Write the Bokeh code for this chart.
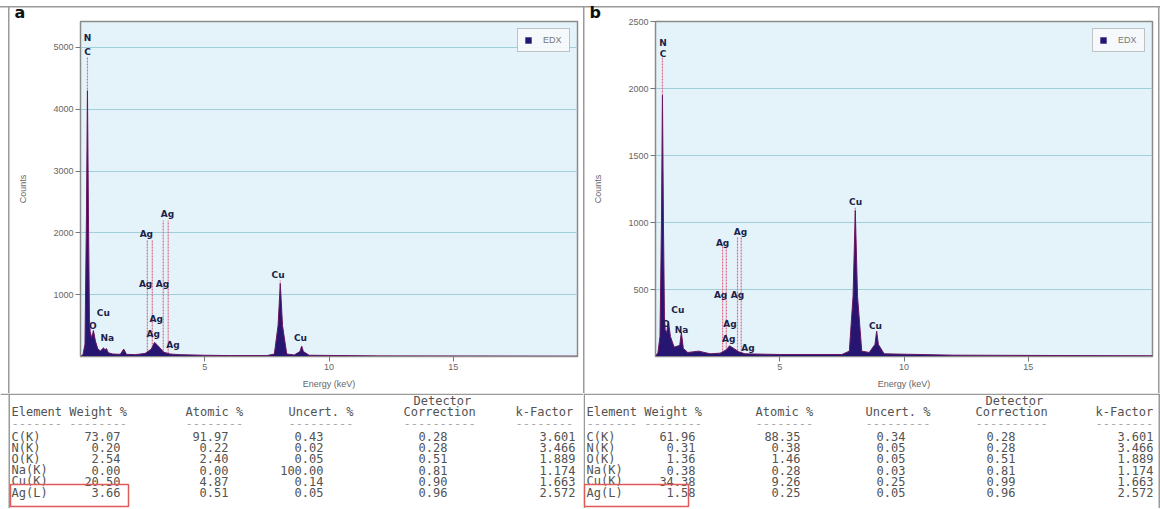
from bokeh.plotting import figure
from bokeh.layouts import row, column
from bokeh.models import Range1d, FixedTicker, Legend, LegendItem, Title
from bokeh.core.properties import value
from bokeh.embed import file_html
from bokeh.resources import INLINE

# ---------------- data ----------------
# spectrum a (energy keV, counts)
energy_a = [0.0, 0.1, 0.18, 0.24, 0.28, 0.32, 0.36, 0.39, 0.45, 0.52, 0.6, 0.7, 0.8, 0.93, 0.98,
            1.04, 1.12, 1.3, 1.6, 1.74, 1.85, 2.2, 2.6, 2.85, 2.98, 3.15, 3.35, 3.6, 4.0, 5.0, 6.0,
            7.5, 7.8, 7.95, 8.04, 8.13, 8.3, 8.6, 8.83, 8.9, 8.97, 9.2, 12.0, 20.0]
counts_a = [0, 30, 200, 2300, 4300, 2300, 600, 400, 300, 420, 250, 120, 90, 140, 100,
            130, 60, 40, 35, 120, 35, 30, 50, 120, 230, 160, 70, 40, 30, 20, 15,
            15, 40, 500, 1180, 500, 40, 25, 80, 170, 80, 20, 10, 5]
# spectrum b
energy_b = [0.0, 0.1, 0.18, 0.24, 0.28, 0.32, 0.36, 0.39, 0.45, 0.52, 0.6, 0.75, 0.93, 0.98, 1.04,
            1.12, 1.3, 1.74, 2.2, 2.6, 2.85, 2.98, 3.15, 3.35, 3.6, 5.0, 7.5, 7.8, 7.95, 8.04,
            8.13, 8.3, 8.6, 8.83, 8.9, 8.97, 9.2, 12.0, 20.0]
counts_b = [0, 30, 150, 1000, 1950, 1000, 300, 200, 180, 260, 150, 70, 80, 90, 180,
            60, 30, 40, 20, 25, 50, 80, 60, 35, 20, 15, 15, 40, 450, 1090,
            450, 40, 30, 90, 190, 90, 20, 10, 5]

# peak labels
lab_a_text = ["N", "C", "O", "Cu", "Na", "Ag", "Ag", "Ag", "Ag", "Ag", "Ag", "Ag", "Cu", "Cu"]
lab_a_x = [0.28, 0.28, 0.50, 0.92, 1.08, 2.65, 3.50, 2.62, 3.30, 3.05, 2.93, 3.72, 7.95, 8.85]
lab_a_y = [5150, 4930, 490, 700, 300, 1980, 2300, 1170, 1170, 600, 370, 180, 1320, 300]
lab_b_text = ["N", "C", "O", "Cu", "Na", "Ag", "Ag", "Ag", "Ag", "Ag", "Ag", "Ag", "Cu", "Cu"]
lab_b_x = [0.30, 0.30, 0.42, 0.90, 1.05, 2.70, 3.42, 2.62, 3.30, 3.00, 2.95, 3.72, 8.05, 8.85]
lab_b_y = [2340, 2260, 245, 350, 200, 850, 930, 460, 460, 240, 130, 65, 1150, 225]

# element marker lines
mark_a_x = [0.28, 2.69, 2.89, 3.33, 3.53, 8.04]
mark_a_top = [4850, 1880, 1880, 2200, 2200, 1230]
mark_b_x = [0.28, 2.70, 2.85, 3.30, 3.45, 8.04]
mark_b_top = [2230, 820, 820, 890, 890, 1110]

yticks_a = [1000, 2000, 3000, 4000, 5000]
yticks_b = [500, 1000, 1500, 2000, 2500]
xticks = [5, 10, 15]

# quantification tables
elements = ["C(K)", "N(K)", "O(K)", "Na(K)", "Cu(K)", "Ag(L)"]
weight_a = [73.07, 0.20, 2.54, 0.00, 20.50, 3.66]
atomic_a = [91.97, 0.22, 2.40, 0.00, 4.87, 0.51]
uncert_a = [0.43, 0.02, 0.05, 100.00, 0.14, 0.05]
detcorr_a = [0.28, 0.28, 0.51, 0.81, 0.90, 0.96]
kfactor_a = [3.601, 3.466, 1.889, 1.174, 1.663, 2.572]
weight_b = [61.96, 0.31, 1.36, 0.38, 34.38, 1.58]
atomic_b = [88.35, 0.38, 1.46, 0.28, 9.26, 0.25]
uncert_b = [0.34, 0.05, 0.05, 0.03, 0.25, 0.05]
detcorr_b = [0.28, 0.28, 0.51, 0.81, 0.99, 0.96]
kfactor_b = [3.601, 3.466, 1.889, 1.174, 1.663, 2.572]

SPEC_H = 393
TAB_H = 115
MONO = value("DejaVu Sans Mono")
GREY = "#9a9a9a"


def make_spec(W, bl, br, ymax, yticks, ex, cy, lt, lx, ly, mx, mtop, letter, edges):
    p = figure(width=W, height=SPEC_H, x_range=Range1d(0, 20), y_range=Range1d(0, ymax),
               min_border_left=bl, min_border_right=br, min_border_top=16, min_border_bottom=37,
               toolbar_location=None, output_backend="svg",
               background_fill_color="#e4f3fa", border_fill_color=None,
               x_axis_label="Energy (keV)", y_axis_label="Counts")
    # panel frame lines (drawn behind the transparent canvas border)
    n = 1 + len(edges)
    grad = f"linear-gradient({GREY},{GREY})"
    p.styles = {
        "background-image": ", ".join([grad] * n),
        "background-repeat": ", ".join(["no-repeat"] * n),
        "background-size": ", ".join(["100% 1.5px"] + ["1.5px 100%"] * len(edges)),
        "background-position": ", ".join(["0px 6px"] + [f"{e}px 6px" for e in edges]),
    }
    p.outline_line_color = "#8a8a8a"
    p.outline_line_width = 1.5
    p.xgrid.visible = False
    p.ygrid.grid_line_color = "#9fd0da"
    p.ygrid.ticker = FixedTicker(ticks=yticks)
    p.xaxis.ticker = FixedTicker(ticks=xticks)
    p.yaxis.ticker = FixedTicker(ticks=yticks)
    for ax in p.axis:
        ax.major_tick_out = 5
        ax.major_tick_in = 0
        ax.minor_tick_out = 0
        ax.minor_tick_in = 0
        ax.axis_line_color = "#8a8a8a"
        ax.major_tick_line_color = "#777777"
        ax.major_label_text_font_size = "9px"
        ax.major_label_text_color = "#666666"
        ax.axis_label_text_font_size = "9px"
        ax.axis_label_text_font_style = "normal"
        ax.axis_label_text_color = "#666666"
        ax.major_label_standoff = 2
    p.yaxis.axis_label_standoff = 22
    p.xaxis.axis_label_standoff = 6

    # element marker lines
    p.segment(x0=mx, y0=[0] * len(mx), x1=mx, y1=mtop, line_color="#e06a8a",
              line_width=1.2, line_dash="2 1")
    r = p.varea(x=ex, y1=0, y2=cy, fill_color="#261672", fill_alpha=1.0)
    p.line(ex, cy, line_color="#6a1660", line_width=1)
    p.text(x=lx, y=ly, text=lt, text_align="center", text_baseline="middle",
           text_font_size="9px", text_font_style="bold", text_color="#1b1f4a",
           text_font=value("DejaVu Sans"))

    leg = Legend(items=[LegendItem(label="EDX", renderers=[r])], location="top_right",
                 margin=7, padding=6, spacing=0, glyph_width=8, glyph_height=8,
                 label_height=10, label_text_font_size="9px", label_text_color="#777777",
                 border_line_color="#8a8a8a", background_fill_color="#f6f9fb",
                 label_standoff=11)
    p.add_layout(leg)

    p.add_layout(Title(text=letter, align="left", offset=-(bl - 6 - edges[0]), standoff=0,
                       text_font_size="16px", text_font_style="bold", text_color="#111111",
                       text_line_height=1.0, text_font="DejaVu Sans"), "above")
    return p


def make_table(W, weight, atomic, uncert, detcorr, kfac, cols, box, edges):
    t = figure(width=W, height=TAB_H, x_range=Range1d(0, W), y_range=Range1d(TAB_H, 0),
               toolbar_location=None, output_backend="svg", x_axis_location=None,
               y_axis_location=None, min_border=0, outline_line_color=None)
    t.grid.visible = False
    t.segment(x0=[0] + edges, y0=[0.75] + [0] * len(edges), x1=[W] + edges,
              y1=[0.75] + [TAB_H] * len(edges), line_color=GREY, line_width=1.5)
    kw = dict(text_font=MONO, text_font_size="12px", text_color="#525252", text_baseline="middle")
    t.text(x=[cols["el"], cols["at_h"], cols["un_h"], cols["co_h"], cols["kf_h"]], y=[18] * 5,
           text=["Element Weight %", "Atomic %", "Uncert. %", "Correction", "k-Factor"],
           text_align="left", **kw)
    t.text(x=[cols["de_h"]], y=[7], text=["Detector"], text_align="left", **kw)
    t.text(x=[cols["el"], cols["at_h"], cols["un_h"], cols["co_h"], cols["kf_h"]], y=[30] * 5,
           text=["------- --------", "--------", "---------", "----------", "--------"],
           text_align="left", text_alpha=0.5, **kw)
    ys = [43 + 11.2 * i for i in range(len(elements))]
    t.text(x=[cols["el"]] * 6, y=ys, text=elements, text_align="left", **kw)
    for key, vals, fmt in (("we", weight, "{:.2f}"), ("at", atomic, "{:.2f}"),
                           ("un", uncert, "{:.2f}"), ("co", detcorr, "{:.2f}"),
                           ("kf", kfac, "{:.3f}")):
        t.text(x=[cols[key]] * 6, y=ys, text=[fmt.format(v) for v in vals],
               text_align="right", **kw)
    t.quad(left=[box[0]], right=[box[1]], top=[ys[-1] - 8], bottom=[TAB_H - 2],
           fill_color=None, line_color="#e05a5a", line_width=1.5)
    return t


cols_a = dict(el=11, we=120, at_h=185, at=228, un_h=288, un=323, co_h=403, de_h=413,
              co=447, kf_h=515, kf=575)
cols_b = dict(el=3, we=112, at_h=172, at=217, un_h=282, un=322, co_h=392, de_h=402,
              co=432, kf_h=512, kf=570)

spec_a = make_spec(583, 80, 6, 5420, yticks_a, energy_a, counts_a, lab_a_text, lab_a_x, lab_a_y,
                   mark_a_x, mark_a_top, "a", [8])
spec_b = make_spec(577, 72, 8, 2500, yticks_b, energy_b, counts_b, lab_b_text, lab_b_x, lab_b_y,
                   mark_b_x, mark_b_top, "b", [0, 575])
tab_a = make_table(583, weight_a, atomic_a, uncert_a, detcorr_a, kfactor_a, cols_a, (10, 128), [8.75])
tab_b = make_table(577, weight_b, atomic_b, uncert_b, detcorr_b, kfactor_b, cols_b, (1, 105),
                   [0.75, 575.75])

layout = column(row(spec_a, spec_b), row(tab_a, tab_b))
open("out.html", "w").write(file_html(layout, INLINE))
